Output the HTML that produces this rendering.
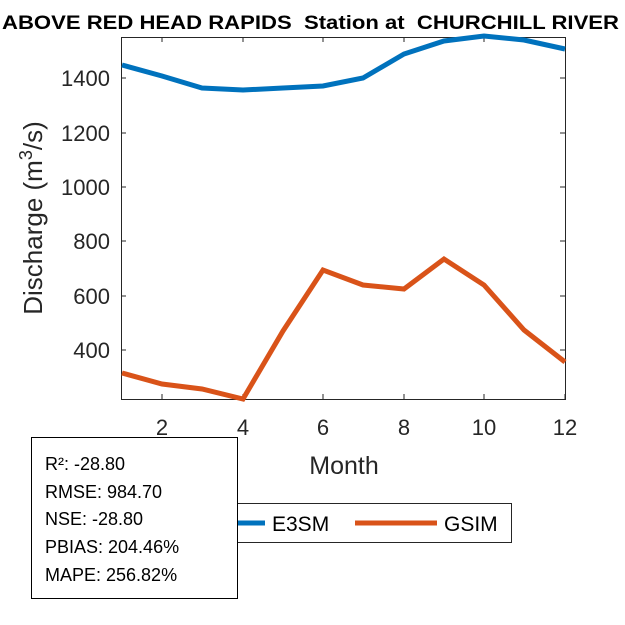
<!DOCTYPE html>
<html><head><meta charset="utf-8"><style>body{margin:0;background:#fff}svg{display:block}</style></head><body>
<svg width="625" height="625" xmlns="http://www.w3.org/2000/svg" font-family="Liberation Sans, Arial, sans-serif">
<rect width="625" height="625" fill="#fff"/>
<text x="2" y="29" font-size="19" font-weight="bold" textLength="617" lengthAdjust="spacingAndGlyphs" xml:space="preserve" style="white-space:pre">ABOVE RED HEAD RAPIDS  Station at  CHURCHILL RIVER</text>
<g stroke="#262626" stroke-width="1" fill="none">
<rect x="121.5" y="37.5" width="444" height="362"/>
<path d="M162,399v-5M243,399v-5M323,399v-5M404,399v-5M484,399v-5M565,399v-5M162,37v5M243,37v5M323,37v5M404,37v5M484,37v5"/>
<path d="M121,78h5M121,133h5M121,187h5M121,241h5M121,296h5M121,350h5M565,78h-5M565,133h-5M565,187h-5M565,241h-5M565,296h-5M565,350h-5"/>
</g>
<g font-size="22" fill="#262626" text-anchor="end">
<text x="110" y="86">1400</text><text x="110" y="141">1200</text><text x="110" y="195">1000</text><text x="110" y="249">800</text><text x="110" y="304">600</text><text x="110" y="358">400</text>
</g>
<g font-size="22" fill="#262626" text-anchor="middle">
<text x="162" y="435">2</text><text x="243" y="435">4</text><text x="323" y="435">6</text><text x="404" y="435">8</text><text x="484" y="435">10</text><text x="565" y="435">12</text>
<text x="344" y="474" font-size="25">Month</text>
</g>
<text transform="translate(42,218) rotate(-90)" font-size="26" fill="#262626" text-anchor="middle">Discharge (m<tspan dy="-10" font-size="18">3</tspan><tspan dy="10">/s)</tspan></text>
<polyline fill="none" stroke="#0072BD" stroke-width="5" points="122,65 162,76 202,88 243,90 283,88 323,86 363,78 404,54 444,41 484,36 524,40 565,49"/>
<polyline fill="none" stroke="#D95319" stroke-width="5" points="122,373 162,384 202,389 243,399 283,331 323,270 363,285 404,289 444,259 484,285 524,330 565,362"/>
<rect x="200.5" y="503.5" width="311" height="39" fill="#fff" stroke="#262626"/>
<line x1="215" y1="523" x2="265" y2="523" stroke="#0072BD" stroke-width="5"/>
<text x="272" y="531" font-size="21">E3SM</text>
<line x1="355" y1="523" x2="437" y2="523" stroke="#D95319" stroke-width="5"/>
<text x="444" y="531" font-size="21">GSIM</text>
<rect x="31.5" y="437.5" width="206" height="161" fill="#fff" stroke="#000"/>
<g font-size="18" fill="#000">
<text x="45" y="470">R²: -28.80</text><text x="45" y="498">RMSE: 984.70</text><text x="45" y="525">NSE: -28.80</text><text x="45" y="553">PBIAS: 204.46%</text><text x="45" y="581">MAPE: 256.82%</text>
</g>
</svg>
</body></html>
